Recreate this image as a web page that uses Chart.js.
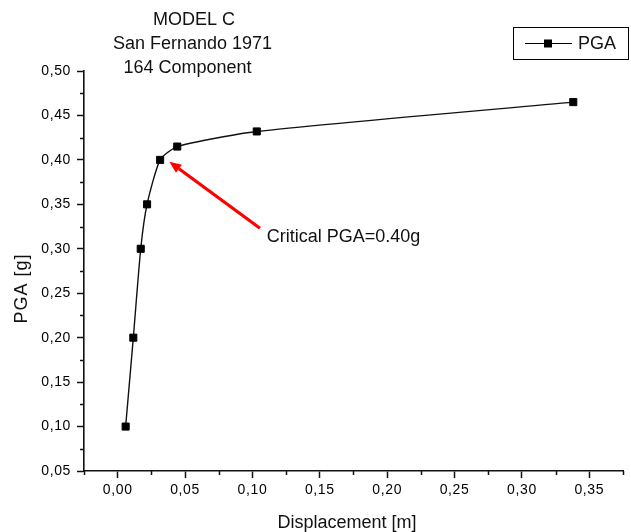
<!DOCTYPE html>
<html><head><meta charset="utf-8">
<script src="https://cdn.jsdelivr.net/npm/chart.js@4.4.1/dist/chart.umd.min.js"></script>
<style>html,body{margin:0;padding:0;background:#fff;}#wrap{width:631px;height:532px;position:relative;}</style>
</head><body><div id="wrap"><canvas id="c" width="631" height="532"></canvas></div>
<script>
const titleLines = ['MODEL C', 'San Fernando 1971', '164 Component'];
const seriesName = 'PGA';
const displacement = [0.0059, 0.0116, 0.0171, 0.0218, 0.0315, 0.0442, 0.1032, 0.3381];
const pga = [0.10, 0.20, 0.30, 0.35, 0.40, 0.415, 0.432, 0.465];
const xTicks = [0, 0.05, 0.10, 0.15, 0.20, 0.25, 0.30, 0.35];
const xTickLabels = ['0,00', '0,05', '0,10', '0,15', '0,20', '0,25', '0,30', '0,35'];
const yTicks = [0.05, 0.10, 0.15, 0.20, 0.25, 0.30, 0.35, 0.40, 0.45, 0.50];
const yTickLabels = ['0,05', '0,10', '0,15', '0,20', '0,25', '0,30', '0,35', '0,40', '0,45', '0,50'];
const xMinorTicks = [-0.025, 0.025, 0.075, 0.125, 0.175, 0.225, 0.275, 0.325, 0.375];
const yMinorTicks = [0.075, 0.125, 0.175, 0.225, 0.275, 0.325, 0.375, 0.425, 0.475];
const xAxisTitle = 'Displacement [m]';
const yAxisTitle = 'PGA [g]';
const annotationText = 'Critical PGA=0.40g';
const arrowTail = [0.1056, 0.323];
const arrowTip = [0.0383, 0.398];
const annotationAt = [0.1106, 0.3136];

const FONT = '"Liberation Sans", Arial, sans-serif';
const AXIS = '#111';
const TEXT = '#111';

const extras = {
  id: 'extras',
  beforeDraw(chart) { chart.ctx.letterSpacing = '0.6px'; },
  beforeDatasetsDraw(chart) { chart.ctx.letterSpacing = '0px'; },
  afterDraw(chart) {
    const ctx = chart.ctx, xs = chart.scales.x, ys = chart.scales.y;
    ctx.save();
    ctx.letterSpacing = '0px';
    // minor ticks
    ctx.strokeStyle = AXIS; ctx.lineWidth = 1.5;
    ctx.beginPath();
    xMinorTicks.forEach(v => { const p = Math.round(xs.getPixelForValue(v)) + 0.5; ctx.moveTo(p, xs.top); ctx.lineTo(p, xs.top + 4); });
    yMinorTicks.forEach(v => { const p = Math.round(ys.getPixelForValue(v)) + 0.5; ctx.moveTo(ys.right, p); ctx.lineTo(ys.right - 4, p); });
    ctx.stroke();
    // title
    ctx.fillStyle = TEXT;
    ctx.font = '18px ' + FONT;
    ctx.textAlign = 'center'; ctx.textBaseline = 'alphabetic';
    const tcx = [194, 192.5, 187.5], tby = [25, 49, 73];
    titleLines.forEach((t, i) => ctx.fillText(t, tcx[i], tby[i]));
    // axis titles
    ctx.fillText(xAxisTitle, 347, 528);
    ctx.save();
    ctx.translate(27, 288.5); ctx.rotate(-Math.PI / 2);
    ctx.textBaseline = 'alphabetic';
    ctx.letterSpacing = '1px';
    ctx.fillText(yAxisTitle, 0, 0);
    ctx.restore();
    // legend
    ctx.strokeStyle = '#000'; ctx.lineWidth = 1;
    ctx.strokeRect(513.5, 27.5, 115, 32);
    ctx.beginPath(); ctx.moveTo(525, 43.5); ctx.lineTo(572, 43.5); ctx.lineWidth = 1.2; ctx.stroke();
    ctx.fillStyle = '#000'; ctx.fillRect(544, 39.5, 8, 8);
    ctx.fillStyle = TEXT; ctx.textAlign = 'left';
    ctx.fillText(seriesName, 578, 48.5);
    // arrow
    const tx = xs.getPixelForValue(arrowTail[0]), ty = ys.getPixelForValue(arrowTail[1]);
    const hx = xs.getPixelForValue(arrowTip[0]), hy = ys.getPixelForValue(arrowTip[1]);
    const ang = Math.atan2(hy - ty, hx - tx);
    const hl = 12, hw = 5;
    const bx = hx - hl * Math.cos(ang), by = hy - hl * Math.sin(ang);
    ctx.strokeStyle = '#ff0000'; ctx.fillStyle = '#ff0000'; ctx.lineWidth = 3.2;
    ctx.beginPath(); ctx.moveTo(tx, ty); ctx.lineTo(bx, by); ctx.stroke();
    ctx.beginPath();
    ctx.moveTo(hx, hy);
    ctx.lineTo(bx + hw * Math.sin(ang), by - hw * Math.cos(ang));
    ctx.lineTo(bx - hw * Math.sin(ang), by + hw * Math.cos(ang));
    ctx.closePath(); ctx.fill();
    // annotation text
    ctx.fillStyle = TEXT; ctx.font = '18px ' + FONT;
    ctx.textAlign = 'left'; ctx.textBaseline = 'middle';
    ctx.fillText(annotationText, xs.getPixelForValue(annotationAt[0]), ys.getPixelForValue(annotationAt[1]));
    ctx.restore();
  }
};

new Chart(document.getElementById('c'), {
  type: 'line',
  data: {
    datasets: [{
      label: seriesName,
      data: displacement.map((x, i) => ({ x, y: pga[i] })),
      borderColor: '#111',
      borderWidth: 1.4,
      backgroundColor: '#000',
      pointStyle: 'rect',
      pointRadius: 5,
      pointBorderWidth: 1,
      pointBorderColor: '#000',
      pointBackgroundColor: '#000',
      tension: 0.2,
      fill: false,
      clip: false
    }]
  },
  options: {
    responsive: false,
    animation: false,
    layout: { padding: { top: 71, right: 8, left: 0, bottom: 0 } },
    plugins: { legend: { display: false }, title: { display: false }, tooltip: { enabled: false } },
    scales: {
      x: {
        type: 'linear', min: -0.025, max: 0.375,
        afterBuildTicks: s => { s.ticks = xTicks.map(v => ({ value: v })); },
        afterFit: s => { s.height = 61; },
        grid: { drawOnChartArea: false, drawTicks: true, tickLength: 7, tickWidth: 1.5, tickColor: AXIS },
        border: { display: true, color: AXIS, width: 1.6 },
        ticks: { padding: 4, color: '#000', font: { family: FONT, size: 14 }, maxRotation: 0,
          callback: (v) => { const i = xTicks.findIndex(t => Math.abs(t - v) < 1e-9); return i >= 0 ? xTickLabels[i] : ''; } }
      },
      y: {
        type: 'linear', min: 0.05, max: 0.50,
        afterBuildTicks: s => { s.ticks = yTicks.map(v => ({ value: v })); },
        afterFit: s => { s.width = 84; },
        grid: { drawOnChartArea: false, drawTicks: true, tickLength: 7, tickWidth: 1.5, tickColor: AXIS },
        border: { display: true, color: AXIS, width: 1.6 },
        ticks: { padding: 6, color: '#000', font: { family: FONT, size: 14 },
          callback: (v) => { const i = yTicks.findIndex(t => Math.abs(t - v) < 1e-9); return i >= 0 ? yTickLabels[i] : ''; } }
      }
    }
  },
  plugins: [extras]
});
</script>
</body></html>
